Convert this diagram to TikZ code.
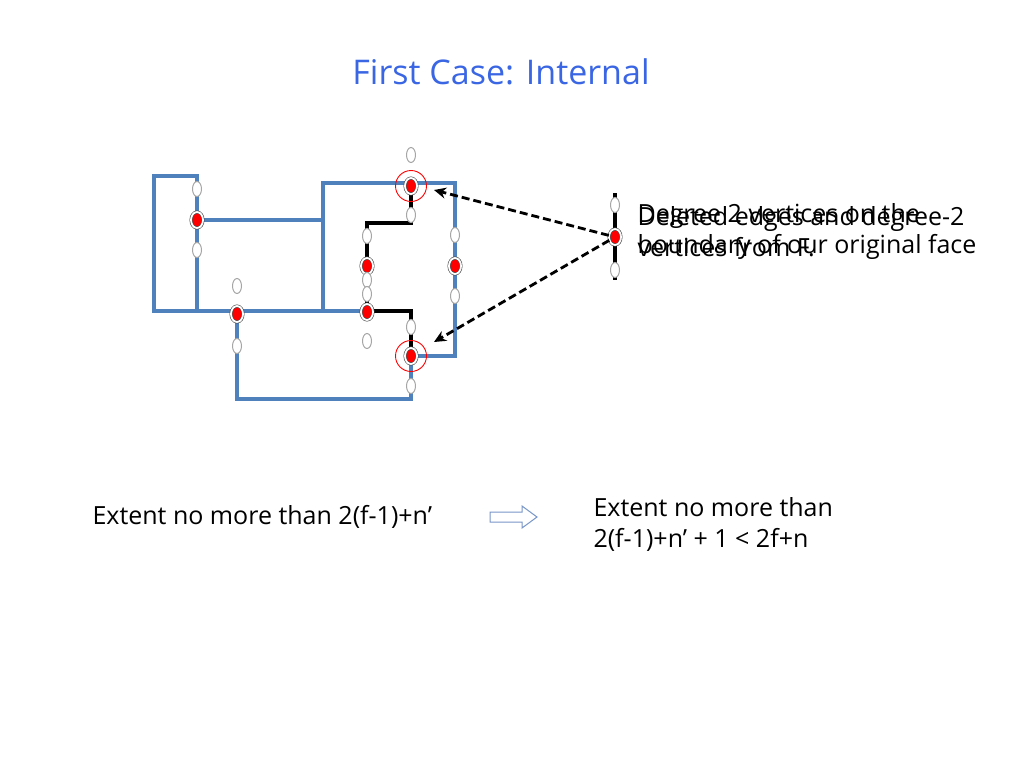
\documentclass[tikz,border=0pt]{standalone}
\usepackage{fontspec}
\setmainfont{Open Sans}
\usetikzlibrary{arrows.meta,positioning,calc,shapes.geometric}

\definecolor{faceblue}{RGB}{79,129,189}
\definecolor{titleblue}{RGB}{58,102,228}
\definecolor{hollowblue}{RGB}{120,150,200}

\tikzset{
  faceline/.style={faceblue,line width=3.3pt},
  delline/.style={black,line width=4.4pt},
  wvert/.style={ellipse,fill=white,draw=gray!70,line width=1pt,
    minimum width=9pt,minimum height=15pt,inner sep=0pt},
  rvert/.style={ellipse,fill=red,draw=gray!60!black,double=white,
    double distance=1.8pt,line width=0.6pt,
    minimum width=12pt,minimum height=16pt,inner sep=0pt},
  ring/.style={circle,draw=red,line width=0.9pt,minimum size=31pt,inner sep=0pt},
  dasharrow/.style={line width=2.8pt,dash pattern=on 8pt off 4pt,
    -{Stealth[length=12pt,width=11pt]}},
  slidetext/.style={anchor=west,align=left,font=\fontsize{25}{31}\selectfont}
}

\begin{document}
\begin{tikzpicture}[x=1pt,y=-1pt]
\useasboundingbox (0,0) rectangle (1024,768);

% title
\node[font=\fontsize{34}{40}\selectfont,text=titleblue] (title) at (501,72) {First Case: Internal};

% face boundaries
\draw[faceline] (367,311) -- (154,311) -- (154,176) -- (197,176) -- (197,311);
\draw[faceline] (197,220) -- (323,220);
\draw[faceline] (323,311) -- (323,183) -- (455,183) -- (455,356) -- (411,356);
\draw[faceline] (237,311) -- (237,399) -- (411,399) -- (411,356);
% deleted edges
\draw[delline] (411,183) -- (411,223) -- (367,223) -- (367,311) -- (411,311) -- (411,356);
\draw[delline] (615,193) -- (615,280);

% degree-2 vertices
\node[wvert] (w1) at (197,189) {};
\node[rvert] (r1) at (197,220) {};
\node[wvert] (w2) at (197,250) {};
\node[wvert] (w3) at (237,286) {};
\node[rvert] (r2) at (237,314) {};
\node[wvert] (w4) at (237,346) {};
\node[wvert] (w5) at (411,155) {};
\node[rvert] (r3) at (411,186) {};
\node[wvert] (w6) at (411,215) {};
\node[wvert] (w7) at (367,236) {};
\node[rvert] (r4) at (367,266) {};
\node[wvert] (w8) at (367,280) {};
\node[wvert] (w9) at (367,294) {};
\node[rvert] (r5) at (367,312) {};
\node[wvert] (w10) at (367,341) {};
\node[wvert] (w11) at (455,235) {};
\node[rvert] (r6) at (455,266) {};
\node[wvert] (w12) at (455,296) {};
\node[wvert] (w13) at (411,327) {};
\node[rvert] (r7) at (411,356) {};
\node[wvert] (w14) at (411,386) {};
\node[wvert] (w15) at (615,205) {};
\node[wvert] (w16) at (615,270) {};
\node[rvert] (r8) at (615,237) {};

\node[ring] (ringtop) at (r3) {};
\node[ring] (ringbot) at (r7) {};

% arrows to the circled vertices
\coordinate (tiptop) at (434,190);
\coordinate (tipbot) at (434,342);
\draw[dasharrow] (r8) -- (tiptop);
\draw[dasharrow] (r8) -- (tipbot);

% two overlapping captions
\node[slidetext] (capA) at (634,232) {Degree 2 vertices on the\\boundary of our original face};
\node[slidetext] (capB) at (634,232) {Deleted edges and degree-2\\vertices from F.};

% bottom line
\node[slidetext] (extA) at (89,517) {Extent no more than 2(f-1)+n’};
\draw[hollowblue,fill=white,line width=1pt]
  (490,512) -- (522,512) -- (522,506) -- (537,517) -- (522,528) -- (522,522) -- (490,522) -- cycle;
\node[slidetext] (extB) at (590,524) {Extent no more than\\2(f-1)+n’ + 1 < 2f+n};
\end{tikzpicture}
\end{document}
